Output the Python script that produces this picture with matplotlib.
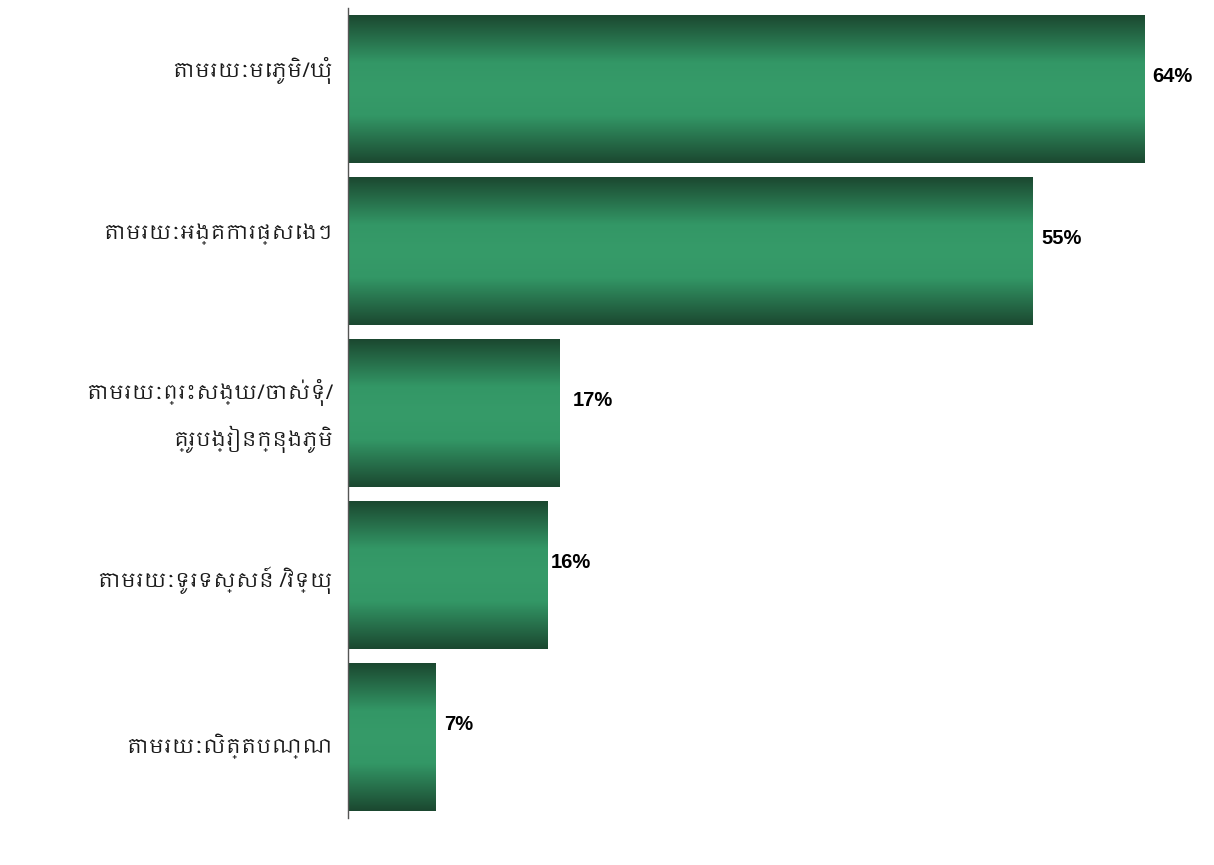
import matplotlib
matplotlib.use("Agg")
import matplotlib.pyplot as plt
import numpy as np
from matplotlib import font_manager as fm
from matplotlib.colors import LinearSegmentedColormap
from matplotlib.transforms import offset_copy

categories = [
    "តាមរយៈមេភូមិ/ឃុំ",
    "តាមរយៈអង្គការផ្សេងៗ",
    "តាមរយៈព្រះសង្ឃ/ចាស់ទុំ/\nគ្រូបង្រៀនក្នុងភូមិ",
    "តាមរយៈទូរទស្សន៍ /វិទ្យុ",
    "តាមរយៈលិត្តបណ្ណ",
]
values = [64, 55, 17, 16, 7]
value_labels = ["64%", "55%", "17%", "16%", "7%"]

names = sorted({f.name for f in fm.fontManager.ttflist})
khmer = [n for n in names if "khmer" in n.lower()]
label_family = khmer + ["DejaVu Sans"] if khmer else ["DejaVu Sans"]

fig = plt.figure(figsize=(12.14, 8.65), dpi=100)
ax = fig.add_axes([348 / 1214, 1 - 818 / 865, 1 - 348 / 1214 - 20 / 1214, 810 / 865])

n = len(categories)
ypos = np.arange(n)
bar_h = 0.91
xmax = 68

cmap = LinearSegmentedColormap.from_list(
    "g", [(0, "#1b4830"), (0.32, "#339766"), (0.5, "#369b69"), (0.68, "#339766"), (1, "#1b4830")]
)
grad = np.linspace(0, 1, 256).reshape(-1, 1)

bars = ax.barh(ypos, values, height=bar_h, color="none", edgecolor="none")
for b in bars:
    x0, y0 = b.get_x(), b.get_y()
    w, h = b.get_width(), b.get_height()
    im = ax.imshow(grad, cmap=cmap, aspect="auto", extent=(x0, x0 + w, y0 + h, y0),
                   origin="upper", interpolation="bilinear", zorder=2)
    im.set_clip_path(b)

ax.set_xlim(0, xmax)
ax.set_ylim(n - 0.5, -0.5)

# small per-label nudges (in pixels) matching the reference placement
label_dx = [8, 9, 13, 4, 9]
for y, v, lab, dx in zip(ypos, values, value_labels, label_dx):
    tr = offset_copy(ax.transData, fig=fig, x=dx, y=13, units="dots")
    ax.text(v, y, lab, va="center", ha="left", fontsize=14.5, fontweight="bold",
            family=["Liberation Sans", "DejaVu Sans"], color="#000000", transform=tr,
            clip_on=False)

# category labels, nudged vertically as in the reference
cat_dy = [18, 17, -3, -5, -9]
for y, cat, dy in zip(ypos, categories, cat_dy):
    tr = offset_copy(ax.transData, fig=fig, x=-15, y=dy, units="dots")
    ax.text(0, y, cat, va="center", ha="right", fontsize=14.5, family=label_family,
            color="#1a1a1a", linespacing=1.95, transform=tr, clip_on=False)

ax.set_yticks([])
ax.set_xticks([])
for s in ["top", "right", "bottom"]:
    ax.spines[s].set_visible(False)
ax.spines["left"].set_color("#555555")
ax.spines["left"].set_linewidth(1.0)
ax.spines["left"].set_zorder(5)

fig.savefig("out.png", dpi=100)
